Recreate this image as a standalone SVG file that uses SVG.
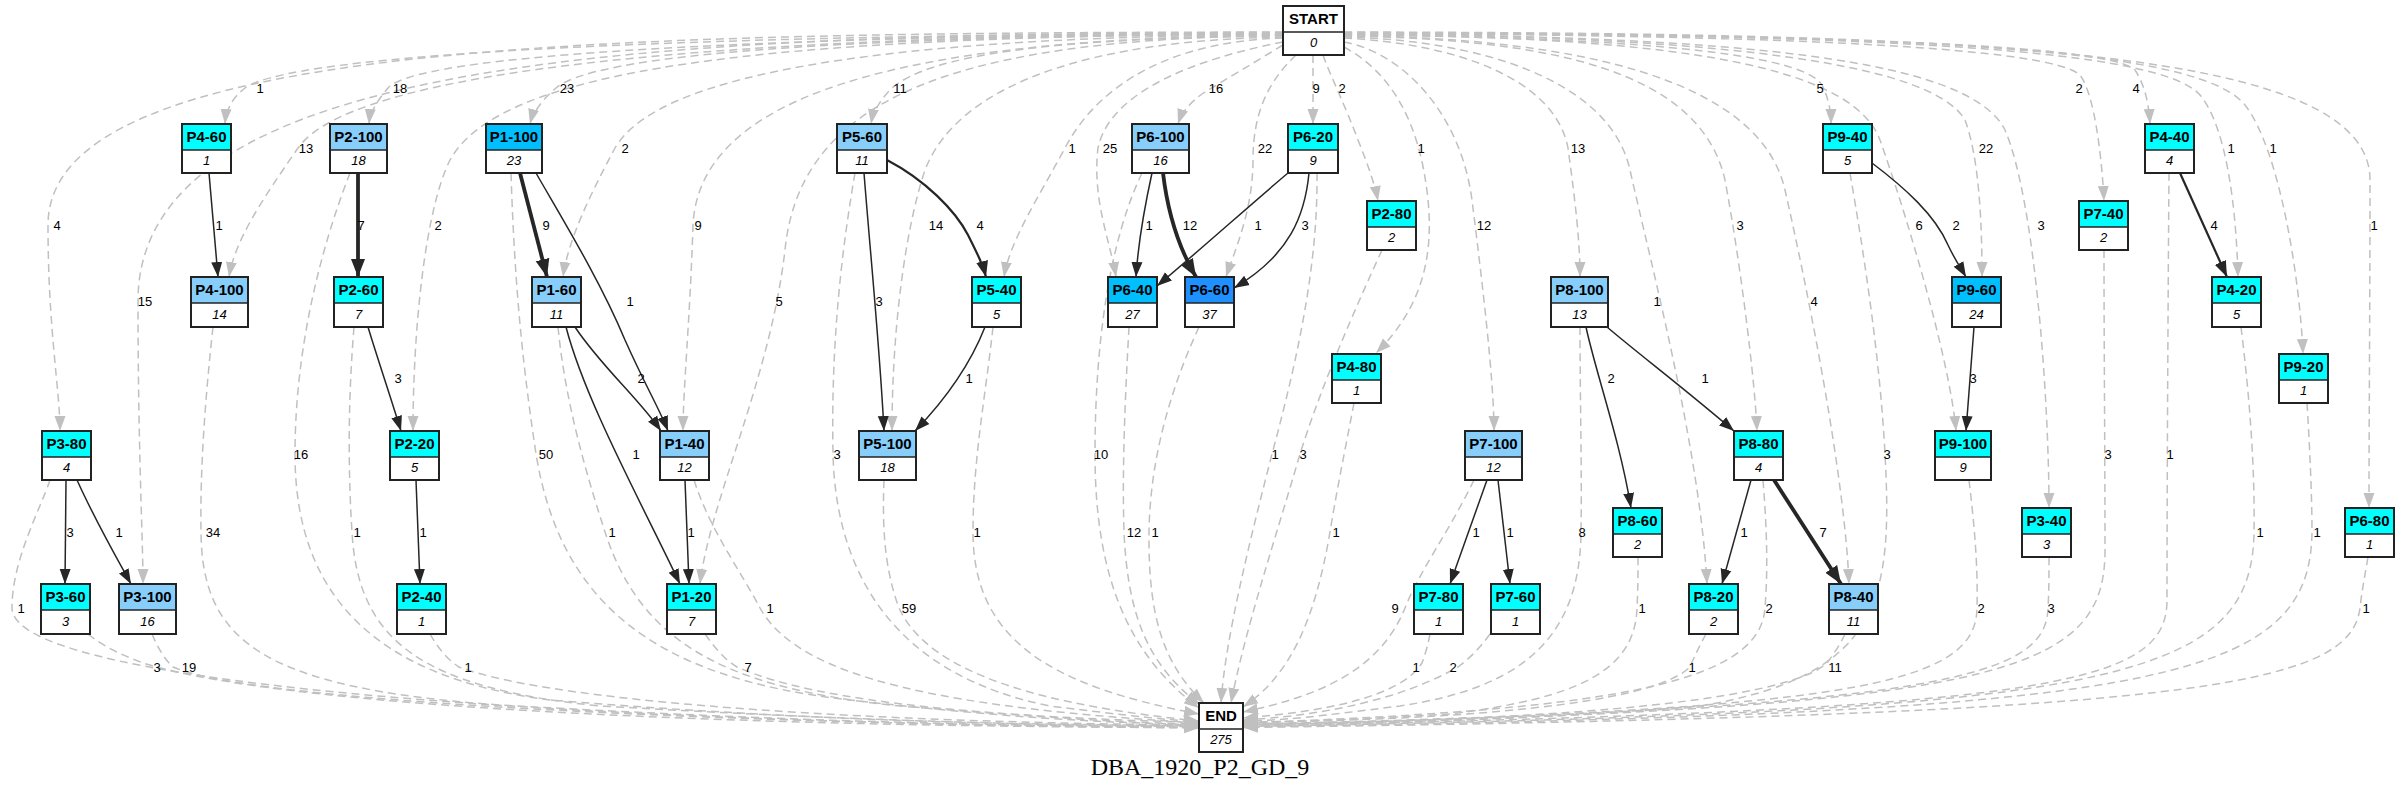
<svg xmlns="http://www.w3.org/2000/svg" width="2400" height="794" viewBox="0 0 2400 794">
<style>
.box{fill:none;stroke:#222;stroke-width:2}
.sep{stroke:#222;stroke-width:1.5}
.t{font-family:"Liberation Sans",Arial,sans-serif;font-weight:bold;font-size:15px;text-anchor:middle}
.n{font-family:"Liberation Sans",Arial,sans-serif;font-style:italic;font-size:13px;text-anchor:middle}
.d{fill:none;stroke:#c0c0c0;stroke-width:1.5;stroke-dasharray:8,5;marker-end:url(#ag)}
.s{fill:none;stroke:#262626;stroke-width:1.5;marker-end:url(#ab)}
.m{stroke-width:2.2;marker-end:url(#am)}
.k{stroke-width:3.8;marker-end:url(#ak)}
.el text{font-family:"Liberation Sans",Arial,sans-serif;font-size:13px;text-anchor:middle}
.ti{font-family:"Liberation Serif","Times New Roman",serif;font-size:24px;text-anchor:middle}
.cy{fill:#00ffff}.lb{fill:#87cefa}.db{fill:#00bfff}.dg{fill:#1e90ff}.wh{fill:#fff}
</style>
<defs>
<marker id="ag" markerUnits="userSpaceOnUse" markerWidth="16" markerHeight="12" refX="15" refY="6" orient="auto"><path d="M0,0.5 L15,6 L0,11.5 z" fill="#c0c0c0"/></marker>
<marker id="ab" markerUnits="userSpaceOnUse" markerWidth="16" markerHeight="12" refX="15" refY="6" orient="auto"><path d="M0,0.5 L15,6 L0,11.5 z" fill="#262626"/></marker>
<marker id="am" markerUnits="userSpaceOnUse" markerWidth="17" markerHeight="13" refX="16" refY="6.5" orient="auto"><path d="M0,0.5 L16,6.5 L0,12.5 z" fill="#262626"/></marker>
<marker id="ak" markerUnits="userSpaceOnUse" markerWidth="19" markerHeight="15" refX="18" refY="7.5" orient="auto"><path d="M0,0.5 L18,7.5 L0,14.5 z" fill="#262626"/></marker>
</defs>
<g id="connectors">
<path class="d" d="M1283,32 C600,33 48,40 48,225 C48,330 60,390 60,431"/>
<path class="d" d="M1283,32.5 C650,34 138,55 138,301 C138,450 143,540 143,584"/>
<path class="d" d="M1283,33 C800,34 300,48 245,88 C232,98 226,110 225,124"/>
<path class="d" d="M1283,33 C800,35 360,60 298,148 C262,200 235,240 229,277"/>
<path class="d" d="M1283,33.5 C850,35 420,50 388,88 C378,100 370,112 369,124"/>
<path class="d" d="M1283,34 C750,36 500,70 450,160 C425,210 413,330 413,431"/>
<path class="d" d="M1283,34 C900,36 600,50 556,88 C543,99 533,112 530,124"/>
<path class="d" d="M1283,34.5 C900,37 660,70 615,148 C590,195 568,240 563,277"/>
<path class="d" d="M1283,35 C950,38 700,80 693,225 C690,320 683,390 683,431"/>
<path class="d" d="M1283,35.5 C950,39 800,100 785,250 C770,380 710,500 700,584"/>
<path class="d" d="M1283,36 C1050,38 930,55 892,88 C880,100 873,112 871,124"/>
<path class="d" d="M1283,37 C1100,40 960,80 925,170 C905,230 892,330 892,431"/>
<path class="d" d="M1283,38 C1150,42 1090,100 1065,148 C1040,195 1010,240 1004,277"/>
<path class="d" d="M1283,42 C1200,58 1110,90 1098,148 C1092,200 1110,240 1116,277"/>
<path class="d" d="M1283,45 C1255,62 1225,80 1205,92 C1190,102 1182,112 1178,124"/>
<path class="d" d="M1296,55 C1270,80 1253,110 1253,160 C1253,210 1235,250 1226,277"/>
<path class="d" d="M1313,55 L1313,124"/>
<path class="d" d="M1323,55 C1330,75 1345,105 1358,140 C1368,165 1375,185 1378,201"/>
<path class="d" d="M1344,47 C1390,72 1420,120 1428,200 C1434,260 1420,310 1376,353"/>
<path class="d" d="M1344,42 C1400,52 1460,110 1472,200 C1482,280 1494,380 1494,431"/>
<path class="d" d="M1344,38 C1460,44 1555,80 1568,148 C1575,200 1580,240 1580,277"/>
<path class="d" d="M1344,37 C1480,40 1610,80 1630,170 C1650,260 1700,450 1707,584"/>
<path class="d" d="M1344,36 C1550,39 1700,70 1725,180 C1740,260 1755,380 1757,431"/>
<path class="d" d="M1344,35.5 C1580,38 1760,80 1785,190 C1810,300 1845,480 1849,584"/>
<path class="d" d="M1344,35 C1600,37 1800,50 1822,85 C1828,97 1831,110 1831,124"/>
<path class="d" d="M1344,34.5 C1650,37 1850,60 1880,140 C1905,210 1950,360 1956,431"/>
<path class="d" d="M1344,34 C1700,36 1930,60 1965,120 C1980,160 1982,230 1982,277"/>
<path class="d" d="M1344,34 C1750,36 1970,60 2005,130 C2035,200 2049,400 2049,508"/>
<path class="d" d="M1344,33.5 C1800,35 2050,48 2080,75 C2095,95 2102,160 2104,201"/>
<path class="d" d="M1344,33 C1850,35 2110,45 2135,70 C2145,85 2149,105 2150,124"/>
<path class="d" d="M1344,33 C1900,34 2160,50 2200,95 C2225,125 2236,200 2238,277"/>
<path class="d" d="M1344,32.5 C1950,34 2200,50 2245,105 C2280,150 2300,280 2303,354"/>
<path class="d" d="M1344,32 C2000,33 2370,50 2370,180 C2370,300 2369,430 2369,508"/>
<path class="d" d="M50,480 C40,510 12,560 12,608 C12,680 500,722 1199,728"/>
<path class="d" d="M88,634 C105,648 125,656 143,663 C300,712 800,727 1199,727.5"/>
<path class="d" d="M152,634 C158,648 165,660 173,667 C260,705 800,726 1199,727"/>
<path class="d" d="M213,327 C205,400 200,470 201,532 C202,640 260,688 500,705 C800,722 1000,726 1199,726.5"/>
<path class="d" d="M350,173 C320,250 295,350 295,454 C295,600 380,678 550,700 C800,720 1000,725 1199,726"/>
<path class="d" d="M354,327 C348,400 348,470 352,532 C358,640 420,688 600,706 C850,720 1000,725 1199,725.5"/>
<path class="d" d="M430,634 C438,648 448,660 459,667 C560,705 900,723 1199,725"/>
<path class="d" d="M511,173 C515,300 525,380 536,454 C560,600 650,678 850,700 C1000,717 1100,723 1199,724.5"/>
<path class="d" d="M558,327 C565,400 585,470 605,532 C640,640 720,688 900,706 C1050,718 1130,723 1199,724"/>
<path class="d" d="M694,480 C710,530 740,570 760,608 C800,680 950,708 1199,723"/>
<path class="d" d="M705,634 C715,648 725,660 737,667 C820,704 1000,717 1199,722.5"/>
<path class="d" d="M855,173 C840,260 831,350 833,454 C836,580 900,676 1050,706 C1130,716 1170,720 1199,722"/>
<path class="d" d="M884,480 C882,530 885,570 899,608 C930,676 1050,706 1199,721"/>
<path class="d" d="M993,327 C985,400 973,460 973,532 C973,640 1050,686 1199,714"/>
<path class="d" d="M1142,173 C1110,240 1095,340 1095,454 C1095,580 1130,656 1199,708"/>
<path class="d" d="M1129,327 C1125,400 1122,470 1124,532 C1128,620 1150,666 1200,705"/>
<path class="d" d="M1199,327 C1170,390 1150,460 1149,532 C1148,620 1165,666 1204,703"/>
<path class="d" d="M1317,173 C1318,260 1300,350 1272,454 C1250,540 1225,640 1221,703"/>
<path class="d" d="M1382,250 C1350,320 1320,390 1300,454 C1275,540 1245,630 1231,703"/>
<path class="d" d="M1354,403 C1345,450 1335,500 1330,532 C1315,620 1290,676 1243,707"/>
<path class="d" d="M1474,480 C1450,530 1420,570 1405,608 C1380,670 1320,696 1243,712"/>
<path class="d" d="M1430,634 C1428,645 1425,655 1422,663 C1400,698 1320,712 1243,718"/>
<path class="d" d="M1490,634 C1480,648 1470,658 1458,667 C1400,700 1320,716 1243,720"/>
<path class="d" d="M1580,327 C1580,400 1582,470 1581,532 C1580,640 1520,688 1400,706 C1320,716 1280,721 1243,721"/>
<path class="d" d="M1638,557 C1638,575 1638,590 1637,608 C1635,670 1580,698 1450,714 C1350,720 1290,722 1243,722"/>
<path class="d" d="M1706,634 C1700,645 1695,655 1690,667 C1650,706 1450,720 1243,722.5"/>
<path class="d" d="M1763,480 C1767,530 1768,570 1765,608 C1760,686 1600,710 1243,723"/>
<path class="d" d="M1845,634 C1840,645 1833,655 1827,663 C1780,706 1500,722 1243,723.5"/>
<path class="d" d="M1850,173 C1865,260 1880,360 1885,454 C1893,600 1880,676 1700,706 C1500,722 1350,724 1243,724"/>
<path class="d" d="M1969,480 C1975,530 1978,570 1977,608 C1976,686 1850,710 1243,724.5"/>
<path class="d" d="M2049,557 C2049,575 2049,590 2048,608 C2046,676 1950,708 1243,725"/>
<path class="d" d="M2104,250 C2104,350 2105,450 2105,550 C2105,676 2000,708 1243,725.5"/>
<path class="d" d="M2169,173 C2168,300 2167,500 2167,600 C2167,686 2050,710 1243,726"/>
<path class="d" d="M2241,327 C2250,400 2255,470 2254,532 C2252,686 2100,712 1243,726.5"/>
<path class="d" d="M2307,403 C2310,450 2312,500 2312,532 C2310,686 2150,713 1243,727"/>
<path class="d" d="M2368,557 C2365,575 2362,590 2360,608 C2350,686 2200,715 1243,727.5"/>
<path class="s" d="M209,173 L218,277"/>
<path class="s k" d="M358,173 L358,277"/>
<path class="s" d="M368,327 C378,360 390,395 401,431"/>
<path class="s" d="M416,480 L420,584"/>
<path class="s k" d="M520,173 L547,277"/>
<path class="s" d="M536,173 C560,215 600,280 625,340 C645,385 660,410 668,431"/>
<path class="s" d="M575,327 C600,365 640,400 661,431"/>
<path class="s" d="M566,327 C585,400 640,500 680,584"/>
<path class="s" d="M685,480 L689,584"/>
<path class="s" d="M66,480 L65,584"/>
<path class="s" d="M77,480 C95,520 115,555 131,584"/>
<path class="s" d="M864,173 C870,250 880,350 884,431"/>
<path class="s m" d="M887,160 C925,180 955,210 968,235 C978,255 983,265 986,277"/>
<path class="s" d="M985,327 C970,365 945,400 915,431"/>
<path class="s" d="M1152,173 C1145,205 1138,245 1136,277"/>
<path class="s k" d="M1163,173 C1168,215 1180,250 1196,277"/>
<path class="s" d="M1288,173 C1250,205 1200,250 1157,286"/>
<path class="s" d="M1309,173 C1305,215 1290,255 1234,288"/>
<path class="s" d="M1487,480 L1450,584"/>
<path class="s" d="M1498,480 L1510,584"/>
<path class="s" d="M1586,327 C1595,370 1620,440 1631,508"/>
<path class="s" d="M1607,327 C1640,355 1680,385 1734,431"/>
<path class="s" d="M1751,480 L1722,584"/>
<path class="s k" d="M1774,480 L1841,584"/>
<path class="s" d="M1872,163 C1905,188 1935,215 1948,245 C1955,260 1962,270 1966,277"/>
<path class="s" d="M1974,327 L1966,431"/>
<path class="s m" d="M2180,173 L2227,277"/>
<g class="el">
<text x="57" y="230">4</text><text x="145" y="306">15</text><text x="260" y="93">1</text><text x="306" y="153">13</text><text x="400" y="93">18</text><text x="438" y="230">2</text><text x="567" y="93">23</text><text x="625" y="153">2</text><text x="698" y="230">9</text><text x="779" y="306">5</text><text x="900" y="93">11</text><text x="936" y="230">14</text><text x="1072" y="153">1</text><text x="1110" y="153">25</text><text x="1216" y="93">16</text><text x="1265" y="153">22</text><text x="1316" y="93">9</text><text x="1342" y="93">2</text><text x="1421" y="153">1</text><text x="1484" y="230">12</text><text x="1578" y="153">13</text><text x="1657" y="306">1</text><text x="1740" y="230">3</text><text x="1814" y="306">4</text><text x="1820" y="93">5</text><text x="1919" y="230">6</text><text x="1986" y="153">22</text><text x="2041" y="230">3</text><text x="2079" y="93">2</text><text x="2136" y="93">4</text><text x="2231" y="153">1</text><text x="2273" y="153">1</text><text x="2374" y="230">1</text>
<text x="219" y="230">1</text><text x="361" y="230">7</text><text x="398" y="383">3</text><text x="423" y="537">1</text><text x="546" y="230">9</text><text x="630" y="306">1</text><text x="641" y="383">2</text><text x="636" y="459">1</text><text x="691" y="537">1</text><text x="70" y="537">3</text><text x="119" y="537">1</text><text x="879" y="306">3</text><text x="980" y="230">4</text><text x="969" y="383">1</text><text x="1149" y="230">1</text><text x="1190" y="230">12</text><text x="1258" y="230">1</text><text x="1305" y="230">3</text><text x="1476" y="537">1</text><text x="1510" y="537">1</text><text x="1611" y="383">2</text><text x="1705" y="383">1</text><text x="1744" y="537">1</text><text x="1823" y="537">7</text><text x="1956" y="230">2</text><text x="1973" y="383">3</text><text x="2214" y="230">4</text>
<text x="21" y="613">1</text><text x="157" y="672">3</text><text x="189" y="672">19</text><text x="213" y="537">34</text><text x="301" y="459">16</text><text x="357" y="537">1</text><text x="468" y="672">1</text><text x="546" y="459">50</text><text x="612" y="537">1</text><text x="770" y="613">1</text><text x="748" y="672">7</text><text x="837" y="459">3</text><text x="909" y="613">59</text><text x="977" y="537">1</text><text x="1101" y="459">10</text><text x="1134" y="537">12</text><text x="1155" y="537">1</text><text x="1275" y="459">1</text><text x="1303" y="459">3</text><text x="1336" y="537">1</text><text x="1395" y="613">9</text><text x="1416" y="672">1</text><text x="1453" y="672">2</text><text x="1582" y="537">8</text><text x="1642" y="613">1</text><text x="1692" y="672">1</text><text x="1769" y="613">2</text><text x="1835" y="672">11</text><text x="1887" y="459">3</text><text x="1981" y="613">2</text><text x="2051" y="613">3</text><text x="2108" y="459">3</text><text x="2170" y="459">1</text><text x="2260" y="537">1</text><text x="2317" y="537">1</text><text x="2366" y="613">1</text>
</g>
</g>
<g id="START"><rect class="wh" x="1283" y="6" width="61" height="49"/><line class="sep" x1="1283" y1="32" x2="1344" y2="32"/><rect class="box" x="1283" y="6" width="61" height="49"/><text class="t" x="1313.5" y="23.5">START</text><text class="n" x="1313.5" y="47">0</text></g>
<g id="P4-60"><rect class="cy" x="182" y="124" width="49" height="26"/><rect class="wh" x="182" y="150" width="49" height="23"/><line class="sep" x1="182" y1="150" x2="231" y2="150"/><rect class="box" x="182" y="124" width="49" height="49"/><text class="t" x="206.5" y="141.5">P4-60</text><text class="n" x="206.5" y="165">1</text></g>
<g id="P2-100"><rect class="lb" x="330" y="124" width="57" height="26"/><rect class="wh" x="330" y="150" width="57" height="23"/><line class="sep" x1="330" y1="150" x2="387" y2="150"/><rect class="box" x="330" y="124" width="57" height="49"/><text class="t" x="358.5" y="141.5">P2-100</text><text class="n" x="358.5" y="165">18</text></g>
<g id="P1-100"><rect class="db" x="486" y="124" width="56" height="26"/><rect class="wh" x="486" y="150" width="56" height="23"/><line class="sep" x1="486" y1="150" x2="542" y2="150"/><rect class="box" x="486" y="124" width="56" height="49"/><text class="t" x="514" y="141.5">P1-100</text><text class="n" x="514" y="165">23</text></g>
<g id="P5-60"><rect class="lb" x="837" y="124" width="50" height="26"/><rect class="wh" x="837" y="150" width="50" height="23"/><line class="sep" x1="837" y1="150" x2="887" y2="150"/><rect class="box" x="837" y="124" width="50" height="49"/><text class="t" x="862" y="141.5">P5-60</text><text class="n" x="862" y="165">11</text></g>
<g id="P6-100"><rect class="lb" x="1132" y="124" width="57" height="26"/><rect class="wh" x="1132" y="150" width="57" height="23"/><line class="sep" x1="1132" y1="150" x2="1189" y2="150"/><rect class="box" x="1132" y="124" width="57" height="49"/><text class="t" x="1160.5" y="141.5">P6-100</text><text class="n" x="1160.5" y="165">16</text></g>
<g id="P6-20"><rect class="cy" x="1288" y="124" width="50" height="26"/><rect class="wh" x="1288" y="150" width="50" height="23"/><line class="sep" x1="1288" y1="150" x2="1338" y2="150"/><rect class="box" x="1288" y="124" width="50" height="49"/><text class="t" x="1313" y="141.5">P6-20</text><text class="n" x="1313" y="165">9</text></g>
<g id="P9-40"><rect class="cy" x="1823" y="124" width="49" height="26"/><rect class="wh" x="1823" y="150" width="49" height="23"/><line class="sep" x1="1823" y1="150" x2="1872" y2="150"/><rect class="box" x="1823" y="124" width="49" height="49"/><text class="t" x="1847.5" y="141.5">P9-40</text><text class="n" x="1847.5" y="165">5</text></g>
<g id="P4-40"><rect class="cy" x="2145" y="124" width="49" height="26"/><rect class="wh" x="2145" y="150" width="49" height="23"/><line class="sep" x1="2145" y1="150" x2="2194" y2="150"/><rect class="box" x="2145" y="124" width="49" height="49"/><text class="t" x="2169.5" y="141.5">P4-40</text><text class="n" x="2169.5" y="165">4</text></g>
<g id="P2-80"><rect class="cy" x="1367" y="201" width="49" height="26"/><rect class="wh" x="1367" y="227" width="49" height="23"/><line class="sep" x1="1367" y1="227" x2="1416" y2="227"/><rect class="box" x="1367" y="201" width="49" height="49"/><text class="t" x="1391.5" y="218.5">P2-80</text><text class="n" x="1391.5" y="242">2</text></g>
<g id="P7-40"><rect class="cy" x="2079" y="201" width="49" height="26"/><rect class="wh" x="2079" y="227" width="49" height="23"/><line class="sep" x1="2079" y1="227" x2="2128" y2="227"/><rect class="box" x="2079" y="201" width="49" height="49"/><text class="t" x="2103.5" y="218.5">P7-40</text><text class="n" x="2103.5" y="242">2</text></g>
<g id="P4-100"><rect class="lb" x="191" y="277" width="57" height="26"/><rect class="wh" x="191" y="303" width="57" height="24"/><line class="sep" x1="191" y1="303" x2="248" y2="303"/><rect class="box" x="191" y="277" width="57" height="50"/><text class="t" x="219.5" y="294.5">P4-100</text><text class="n" x="219.5" y="319">14</text></g>
<g id="P2-60"><rect class="cy" x="334" y="277" width="49" height="26"/><rect class="wh" x="334" y="303" width="49" height="24"/><line class="sep" x1="334" y1="303" x2="383" y2="303"/><rect class="box" x="334" y="277" width="49" height="50"/><text class="t" x="358.5" y="294.5">P2-60</text><text class="n" x="358.5" y="319">7</text></g>
<g id="P1-60"><rect class="lb" x="532" y="277" width="49" height="26"/><rect class="wh" x="532" y="303" width="49" height="24"/><line class="sep" x1="532" y1="303" x2="581" y2="303"/><rect class="box" x="532" y="277" width="49" height="50"/><text class="t" x="556.5" y="294.5">P1-60</text><text class="n" x="556.5" y="319">11</text></g>
<g id="P5-40"><rect class="cy" x="972" y="277" width="49" height="26"/><rect class="wh" x="972" y="303" width="49" height="24"/><line class="sep" x1="972" y1="303" x2="1021" y2="303"/><rect class="box" x="972" y="277" width="49" height="50"/><text class="t" x="996.5" y="294.5">P5-40</text><text class="n" x="996.5" y="319">5</text></g>
<g id="P6-40"><rect class="db" x="1108" y="277" width="49" height="26"/><rect class="wh" x="1108" y="303" width="49" height="24"/><line class="sep" x1="1108" y1="303" x2="1157" y2="303"/><rect class="box" x="1108" y="277" width="49" height="50"/><text class="t" x="1132.5" y="294.5">P6-40</text><text class="n" x="1132.5" y="319">27</text></g>
<g id="P6-60"><rect class="dg" x="1185" y="277" width="49" height="26"/><rect class="wh" x="1185" y="303" width="49" height="24"/><line class="sep" x1="1185" y1="303" x2="1234" y2="303"/><rect class="box" x="1185" y="277" width="49" height="50"/><text class="t" x="1209.5" y="294.5">P6-60</text><text class="n" x="1209.5" y="319">37</text></g>
<g id="P8-100"><rect class="lb" x="1551" y="277" width="57" height="26"/><rect class="wh" x="1551" y="303" width="57" height="24"/><line class="sep" x1="1551" y1="303" x2="1608" y2="303"/><rect class="box" x="1551" y="277" width="57" height="50"/><text class="t" x="1579.5" y="294.5">P8-100</text><text class="n" x="1579.5" y="319">13</text></g>
<g id="P9-60"><rect class="db" x="1952" y="277" width="49" height="26"/><rect class="wh" x="1952" y="303" width="49" height="24"/><line class="sep" x1="1952" y1="303" x2="2001" y2="303"/><rect class="box" x="1952" y="277" width="49" height="50"/><text class="t" x="1976.5" y="294.5">P9-60</text><text class="n" x="1976.5" y="319">24</text></g>
<g id="P4-20"><rect class="cy" x="2212" y="277" width="49" height="26"/><rect class="wh" x="2212" y="303" width="49" height="24"/><line class="sep" x1="2212" y1="303" x2="2261" y2="303"/><rect class="box" x="2212" y="277" width="49" height="50"/><text class="t" x="2236.5" y="294.5">P4-20</text><text class="n" x="2236.5" y="319">5</text></g>
<g id="P4-80"><rect class="cy" x="1332" y="354" width="49" height="26"/><rect class="wh" x="1332" y="380" width="49" height="23"/><line class="sep" x1="1332" y1="380" x2="1381" y2="380"/><rect class="box" x="1332" y="354" width="49" height="49"/><text class="t" x="1356.5" y="371.5">P4-80</text><text class="n" x="1356.5" y="395">1</text></g>
<g id="P9-20"><rect class="cy" x="2279" y="354" width="49" height="26"/><rect class="wh" x="2279" y="380" width="49" height="23"/><line class="sep" x1="2279" y1="380" x2="2328" y2="380"/><rect class="box" x="2279" y="354" width="49" height="49"/><text class="t" x="2303.5" y="371.5">P9-20</text><text class="n" x="2303.5" y="395">1</text></g>
<g id="P3-80"><rect class="cy" x="42" y="431" width="49" height="26"/><rect class="wh" x="42" y="457" width="49" height="23"/><line class="sep" x1="42" y1="457" x2="91" y2="457"/><rect class="box" x="42" y="431" width="49" height="49"/><text class="t" x="66.5" y="448.5">P3-80</text><text class="n" x="66.5" y="472">4</text></g>
<g id="P2-20"><rect class="cy" x="390" y="431" width="49" height="26"/><rect class="wh" x="390" y="457" width="49" height="23"/><line class="sep" x1="390" y1="457" x2="439" y2="457"/><rect class="box" x="390" y="431" width="49" height="49"/><text class="t" x="414.5" y="448.5">P2-20</text><text class="n" x="414.5" y="472">5</text></g>
<g id="P1-40"><rect class="lb" x="660" y="431" width="49" height="26"/><rect class="wh" x="660" y="457" width="49" height="23"/><line class="sep" x1="660" y1="457" x2="709" y2="457"/><rect class="box" x="660" y="431" width="49" height="49"/><text class="t" x="684.5" y="448.5">P1-40</text><text class="n" x="684.5" y="472">12</text></g>
<g id="P5-100"><rect class="lb" x="859" y="431" width="57" height="26"/><rect class="wh" x="859" y="457" width="57" height="23"/><line class="sep" x1="859" y1="457" x2="916" y2="457"/><rect class="box" x="859" y="431" width="57" height="49"/><text class="t" x="887.5" y="448.5">P5-100</text><text class="n" x="887.5" y="472">18</text></g>
<g id="P7-100"><rect class="lb" x="1465" y="431" width="57" height="26"/><rect class="wh" x="1465" y="457" width="57" height="23"/><line class="sep" x1="1465" y1="457" x2="1522" y2="457"/><rect class="box" x="1465" y="431" width="57" height="49"/><text class="t" x="1493.5" y="448.5">P7-100</text><text class="n" x="1493.5" y="472">12</text></g>
<g id="P8-80"><rect class="cy" x="1734" y="431" width="49" height="26"/><rect class="wh" x="1734" y="457" width="49" height="23"/><line class="sep" x1="1734" y1="457" x2="1783" y2="457"/><rect class="box" x="1734" y="431" width="49" height="49"/><text class="t" x="1758.5" y="448.5">P8-80</text><text class="n" x="1758.5" y="472">4</text></g>
<g id="P9-100"><rect class="cy" x="1935" y="431" width="56" height="26"/><rect class="wh" x="1935" y="457" width="56" height="23"/><line class="sep" x1="1935" y1="457" x2="1991" y2="457"/><rect class="box" x="1935" y="431" width="56" height="49"/><text class="t" x="1963" y="448.5">P9-100</text><text class="n" x="1963" y="472">9</text></g>
<g id="P8-60"><rect class="cy" x="1613" y="508" width="49" height="26"/><rect class="wh" x="1613" y="534" width="49" height="23"/><line class="sep" x1="1613" y1="534" x2="1662" y2="534"/><rect class="box" x="1613" y="508" width="49" height="49"/><text class="t" x="1637.5" y="525.5">P8-60</text><text class="n" x="1637.5" y="549">2</text></g>
<g id="P3-40"><rect class="cy" x="2022" y="508" width="49" height="26"/><rect class="wh" x="2022" y="534" width="49" height="23"/><line class="sep" x1="2022" y1="534" x2="2071" y2="534"/><rect class="box" x="2022" y="508" width="49" height="49"/><text class="t" x="2046.5" y="525.5">P3-40</text><text class="n" x="2046.5" y="549">3</text></g>
<g id="P6-80"><rect class="cy" x="2345" y="508" width="49" height="26"/><rect class="wh" x="2345" y="534" width="49" height="23"/><line class="sep" x1="2345" y1="534" x2="2394" y2="534"/><rect class="box" x="2345" y="508" width="49" height="49"/><text class="t" x="2369.5" y="525.5">P6-80</text><text class="n" x="2369.5" y="549">1</text></g>
<g id="P3-60"><rect class="cy" x="41" y="584" width="49" height="26"/><rect class="wh" x="41" y="610" width="49" height="24"/><line class="sep" x1="41" y1="610" x2="90" y2="610"/><rect class="box" x="41" y="584" width="49" height="50"/><text class="t" x="65.5" y="601.5">P3-60</text><text class="n" x="65.5" y="626">3</text></g>
<g id="P3-100"><rect class="lb" x="119" y="584" width="57" height="26"/><rect class="wh" x="119" y="610" width="57" height="24"/><line class="sep" x1="119" y1="610" x2="176" y2="610"/><rect class="box" x="119" y="584" width="57" height="50"/><text class="t" x="147.5" y="601.5">P3-100</text><text class="n" x="147.5" y="626">16</text></g>
<g id="P2-40"><rect class="cy" x="397" y="584" width="49" height="26"/><rect class="wh" x="397" y="610" width="49" height="24"/><line class="sep" x1="397" y1="610" x2="446" y2="610"/><rect class="box" x="397" y="584" width="49" height="50"/><text class="t" x="421.5" y="601.5">P2-40</text><text class="n" x="421.5" y="626">1</text></g>
<g id="P1-20"><rect class="cy" x="667" y="584" width="49" height="26"/><rect class="wh" x="667" y="610" width="49" height="24"/><line class="sep" x1="667" y1="610" x2="716" y2="610"/><rect class="box" x="667" y="584" width="49" height="50"/><text class="t" x="691.5" y="601.5">P1-20</text><text class="n" x="691.5" y="626">7</text></g>
<g id="P7-80"><rect class="cy" x="1414" y="584" width="49" height="26"/><rect class="wh" x="1414" y="610" width="49" height="24"/><line class="sep" x1="1414" y1="610" x2="1463" y2="610"/><rect class="box" x="1414" y="584" width="49" height="50"/><text class="t" x="1438.5" y="601.5">P7-80</text><text class="n" x="1438.5" y="626">1</text></g>
<g id="P7-60"><rect class="cy" x="1491" y="584" width="49" height="26"/><rect class="wh" x="1491" y="610" width="49" height="24"/><line class="sep" x1="1491" y1="610" x2="1540" y2="610"/><rect class="box" x="1491" y="584" width="49" height="50"/><text class="t" x="1515.5" y="601.5">P7-60</text><text class="n" x="1515.5" y="626">1</text></g>
<g id="P8-20"><rect class="cy" x="1689" y="584" width="49" height="26"/><rect class="wh" x="1689" y="610" width="49" height="24"/><line class="sep" x1="1689" y1="610" x2="1738" y2="610"/><rect class="box" x="1689" y="584" width="49" height="50"/><text class="t" x="1713.5" y="601.5">P8-20</text><text class="n" x="1713.5" y="626">2</text></g>
<g id="P8-40"><rect class="lb" x="1829" y="584" width="49" height="26"/><rect class="wh" x="1829" y="610" width="49" height="24"/><line class="sep" x1="1829" y1="610" x2="1878" y2="610"/><rect class="box" x="1829" y="584" width="49" height="50"/><text class="t" x="1853.5" y="601.5">P8-40</text><text class="n" x="1853.5" y="626">11</text></g>
<g id="END"><rect class="wh" x="1199" y="703" width="44" height="49"/><line class="sep" x1="1199" y1="729" x2="1243" y2="729"/><rect class="box" x="1199" y="703" width="44" height="49"/><text class="t" x="1221" y="720.5">END</text><text class="n" x="1221" y="744">275</text></g>
<text class="ti" x="1200" y="775">DBA_1920_P2_GD_9</text>
</svg>
